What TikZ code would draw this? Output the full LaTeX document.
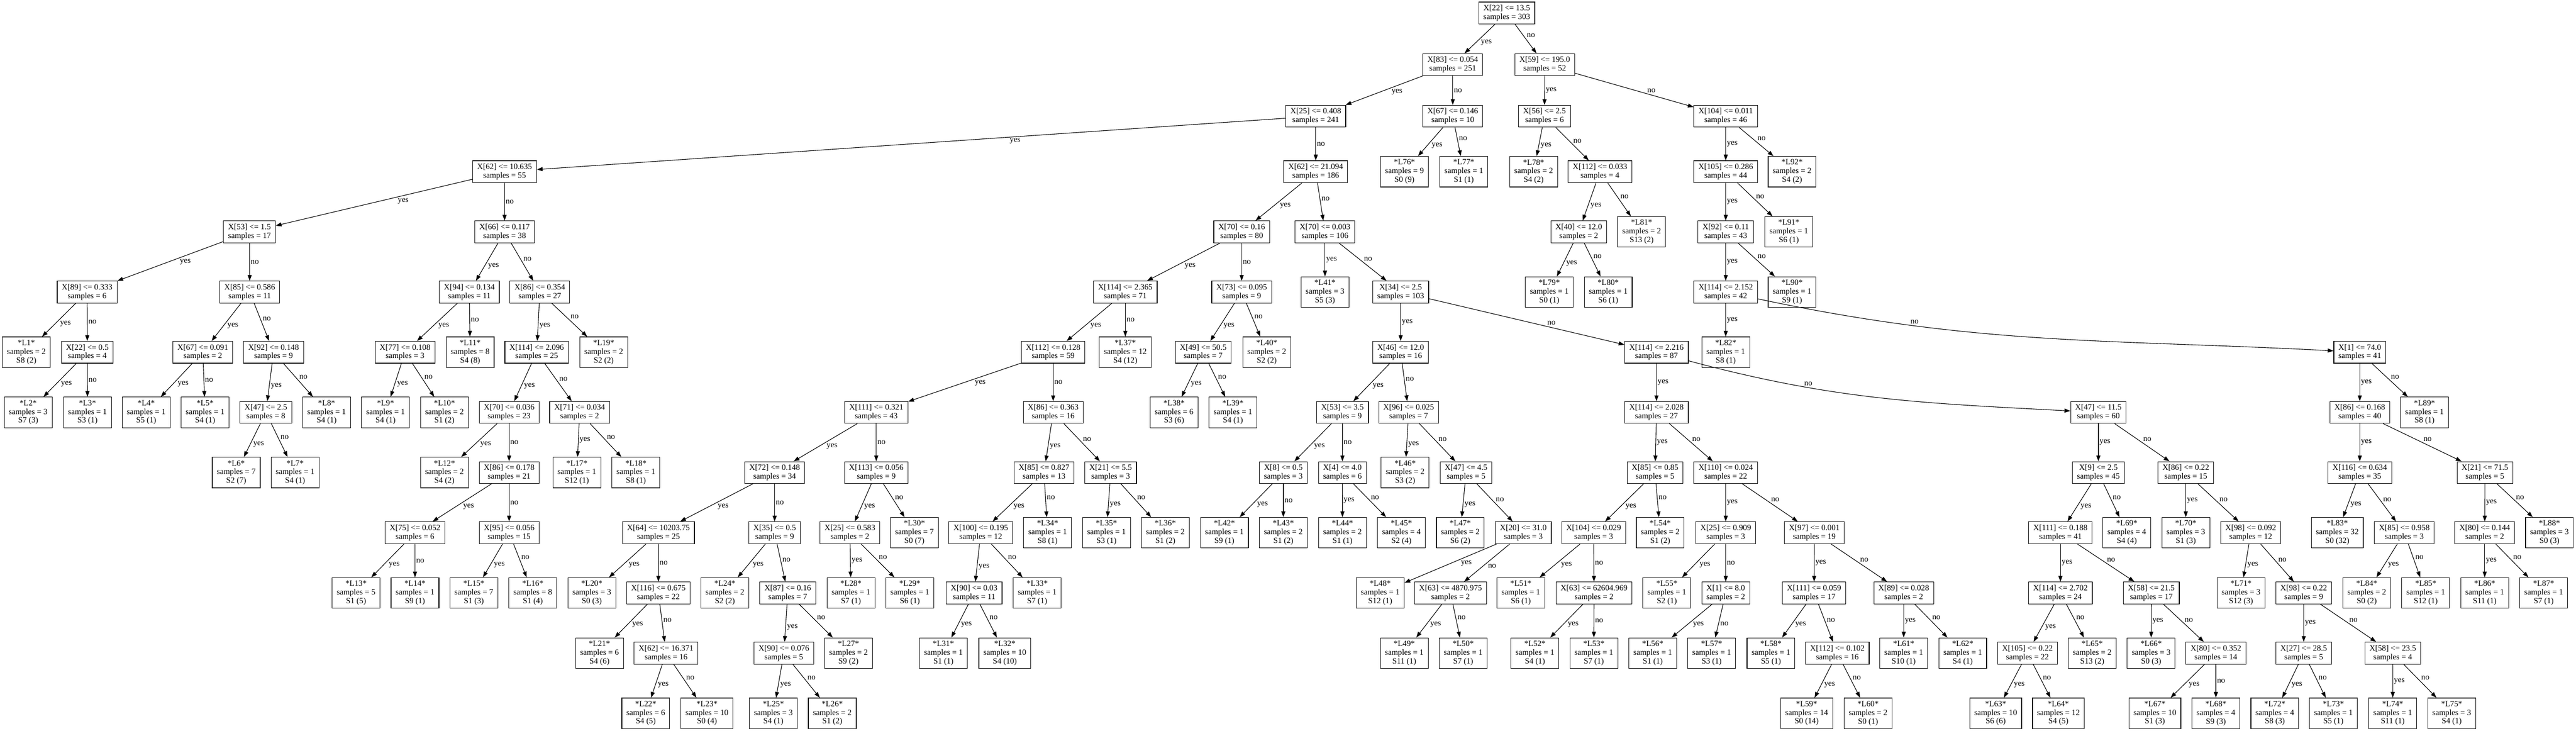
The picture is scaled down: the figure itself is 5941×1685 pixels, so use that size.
\documentclass[tikz,border=0pt]{standalone}
\usepackage{fontspec}
\setmainfont{Liberation Serif}
\usetikzlibrary{arrows.meta}

\begin{document}
\begin{tikzpicture}[x=0.75pt,y=0.75pt,font=\fontsize{14}{15}\selectfont,
split/.style={draw,line width=1pt,fill=white,align=center,inner xsep=7.9pt,inner ysep=1pt,minimum height=37.9pt},
leaf/.style={split,minimum height=52.9pt},
link/.style={line width=1pt,-{Triangle[length=10pt,width=7pt]}},
lbl/.style={auto=left,inner sep=1.5pt}]
\useasboundingbox (0,0) rectangle (5941,-1685);
\node[split] (x22a) at (3475,-30) {X[22] <= 13.5\\samples = 303};
\node[split] (x83) at (3350.5,-149) {X[83] <= 0.054\\samples = 251};
\node[split] (x59) at (3562.5,-149) {X[59] <= 195.0\\samples = 52};
\node[split] (x25a) at (3034.5,-268) {X[25] <= 0.408\\samples = 241};
\node[split] (x67a) at (3350.5,-268) {X[67] <= 0.146\\samples = 10};
\node[split] (x56) at (3562,-268) {X[56] <= 2.5\\samples = 6};
\node[split] (x104a) at (3980,-268) {X[104] <= 0.011\\samples = 46};
\node[split] (x62a) at (1163.7,-396) {X[62] <= 10.635\\samples = 55};
\node[split] (x62b) at (3034.5,-396) {X[62] <= 21.094\\samples = 186};
\node[leaf] (l76) at (3239,-396) {*L76*\\samples = 9\\S0 (9)};
\node[leaf] (l77) at (3376,-396) {*L77*\\samples = 1\\S1 (1)};
\node[leaf] (l78) at (3537,-396) {*L78*\\samples = 2\\S4 (2)};
\node[split] (x112a) at (3690,-396) {X[112] <= 0.033\\samples = 4};
\node[split] (x105a) at (3980,-396) {X[105] <= 0.286\\samples = 44};
\node[leaf] (l92) at (4133,-396) {*L92*\\samples = 2\\S4 (2)};
\node[split] (x53a) at (575.4,-534.8) {X[53] <= 1.5\\samples = 17};
\node[split] (x66) at (1163.7,-534.8) {X[66] <= 0.117\\samples = 38};
\node[split] (x70a) at (2863.7,-534.8) {X[70] <= 0.16\\samples = 80};
\node[split] (x70b) at (3055.8,-534.8) {X[70] <= 0.003\\samples = 106};
\node[split] (x40) at (3641,-534.8) {X[40] <= 12.0\\samples = 2};
\node[leaf] (l81) at (3786,-534.8) {*L81*\\samples = 2\\S13 (2)};
\node[split] (x92a) at (3980,-534.8) {X[92] <= 0.11\\samples = 43};
\node[leaf] (l91) at (4125.5,-534.8) {*L91*\\samples = 1\\S6 (1)};
\node[split] (x89a) at (200.9,-673.6) {X[89] <= 0.333\\samples = 6};
\node[split] (x85a) at (575.9,-673.6) {X[85] <= 0.586\\samples = 11};
\node[split] (x94) at (1082.4,-673.6) {X[94] <= 0.134\\samples = 11};
\node[split] (x86a) at (1245,-673.6) {X[86] <= 0.354\\samples = 27};
\node[split] (x114a) at (2595.3,-673.6) {X[114] <= 2.365\\samples = 71};
\node[split] (x73) at (2863.6,-673.6) {X[73] <= 0.095\\samples = 9};
\node[leaf] (l41) at (3055.8,-673.6) {*L41*\\samples = 3\\S5 (3)};
\node[split] (x34) at (3230.3,-673.6) {X[34] <= 2.5\\samples = 103};
\node[leaf] (l79) at (3573,-673.6) {*L79*\\samples = 1\\S0 (1)};
\node[leaf] (l80) at (3709,-673.6) {*L80*\\samples = 1\\S6 (1)};
\node[split] (x114b) at (3980,-673.6) {X[114] <= 2.152\\samples = 42};
\node[leaf] (l90) at (4133,-673.6) {*L90*\\samples = 1\\S9 (1)};
\node[leaf] (l1) at (60.7,-812.4) {*L1*\\samples = 2\\S8 (2)};
\node[split] (x22b) at (201.4,-812.4) {X[22] <= 0.5\\samples = 4};
\node[split] (x67b) at (467.8,-812.4) {X[67] <= 0.091\\samples = 2};
\node[split] (x92b) at (630.9,-812.4) {X[92] <= 0.148\\samples = 9};
\node[split] (x77) at (934.1,-812.4) {X[77] <= 0.108\\samples = 3};
\node[leaf] (l11) at (1084.3,-812.4) {*L11*\\samples = 8\\S4 (8)};
\node[split] (x114c) at (1237.8,-812.4) {X[114] <= 2.096\\samples = 25};
\node[leaf] (l19) at (1392.3,-812.4) {*L19*\\samples = 2\\S2 (2)};
\node[split] (x112b) at (2428.9,-812.4) {X[112] <= 0.128\\samples = 59};
\node[leaf] (l37) at (2595.3,-812.4) {*L37*\\samples = 12\\S4 (12)};
\node[split] (x49) at (2774.8,-812.4) {X[49] <= 50.5\\samples = 7};
\node[leaf] (l40) at (2921.5,-812.4) {*L40*\\samples = 2\\S2 (2)};
\node[split] (x46) at (3230.3,-812.4) {X[46] <= 12.0\\samples = 16};
\node[split] (x114d) at (3820.3,-812.4) {X[114] <= 2.216\\samples = 87};
\node[leaf] (l82) at (3980,-812.4) {*L82*\\samples = 1\\S8 (1)};
\node[split] (x1a) at (5442.3,-812.4) {X[1] <= 74.0\\samples = 41};
\node[leaf] (l2) at (65,-951.2) {*L2*\\samples = 3\\S7 (3)};
\node[leaf] (l3) at (201.8,-951.2) {*L3*\\samples = 1\\S3 (1)};
\node[leaf] (l4) at (337.2,-951.2) {*L4*\\samples = 1\\S5 (1)};
\node[leaf] (l5) at (473,-951.2) {*L5*\\samples = 1\\S4 (1)};
\node[split] (x47a) at (613.2,-951.2) {X[47] <= 2.5\\samples = 8};
\node[leaf] (l8) at (753.3,-951.2) {*L8*\\samples = 1\\S4 (1)};
\node[leaf] (l9) at (889.2,-951.2) {*L9*\\samples = 1\\S4 (1)};
\node[leaf] (l10) at (1025,-951.2) {*L10*\\samples = 2\\S1 (2)};
\node[split] (x70c) at (1174.2,-951.2) {X[70] <= 0.036\\samples = 23};
\node[split] (x71) at (1336.8,-951.2) {X[71] <= 0.034\\samples = 2};
\node[split] (x111a) at (2020.9,-951.2) {X[111] <= 0.321\\samples = 43};
\node[split] (x86b) at (2428.9,-951.2) {X[86] <= 0.363\\samples = 16};
\node[leaf] (l38) at (2707.7,-951.2) {*L38*\\samples = 6\\S3 (6)};
\node[leaf] (l39) at (2843.5,-951.2) {*L39*\\samples = 1\\S4 (1)};
\node[split] (x53b) at (3096.1,-951.2) {X[53] <= 3.5\\samples = 9};
\node[split] (x96) at (3248.7,-951.2) {X[96] <= 0.025\\samples = 7};
\node[split] (x114e) at (3820.3,-951.2) {X[114] <= 2.028\\samples = 27};
\node[split] (x47b) at (4839.4,-951.2) {X[47] <= 11.5\\samples = 60};
\node[split] (x86c) at (5442.3,-951.2) {X[86] <= 0.168\\samples = 40};
\node[leaf] (l89) at (5591.6,-951.2) {*L89*\\samples = 1\\S8 (1)};
\node[leaf] (l6) at (544.8,-1090) {*L6*\\samples = 7\\S2 (7)};
\node[leaf] (l7) at (680.6,-1090) {*L7*\\samples = 1\\S4 (1)};
\node[leaf] (l12) at (1025,-1090) {*L12*\\samples = 2\\S4 (2)};
\node[split] (x86d) at (1174.2,-1090) {X[86] <= 0.178\\samples = 21};
\node[leaf] (l17) at (1330.4,-1090) {*L17*\\samples = 1\\S12 (1)};
\node[leaf] (l18) at (1466.6,-1090) {*L18*\\samples = 1\\S8 (1)};
\node[split] (x72) at (1786.5,-1090) {X[72] <= 0.148\\samples = 34};
\node[split] (x113) at (2020.9,-1090) {X[113] <= 0.056\\samples = 9};
\node[split] (x85b) at (2407.8,-1090) {X[85] <= 0.827\\samples = 13};
\node[split] (x21a) at (2561.4,-1090) {X[21] <= 5.5\\samples = 3};
\node[split] (x8) at (2959.7,-1090) {X[8] <= 0.5\\samples = 3};
\node[split] (x4) at (3096,-1090) {X[4] <= 4.0\\samples = 6};
\node[leaf] (l46) at (3240.6,-1090) {*L46*\\samples = 2\\S3 (2)};
\node[split] (x47c) at (3381.2,-1090) {X[47] <= 4.5\\samples = 5};
\node[split] (x85c) at (3817,-1090) {X[85] <= 0.85\\samples = 5};
\node[split] (x110) at (3980,-1090) {X[110] <= 0.024\\samples = 22};
\node[split] (x9) at (4839.4,-1090) {X[9] <= 2.5\\samples = 45};
\node[split] (x86e) at (5041,-1090) {X[86] <= 0.22\\samples = 15};
\node[split] (x116a) at (5442.3,-1090) {X[116] <= 0.634\\samples = 35};
\node[split] (x21b) at (5730.9,-1090) {X[21] <= 71.5\\samples = 5};
\node[split] (x75) at (957.1,-1228.8) {X[75] <= 0.052\\samples = 6};
\node[split] (x95) at (1174.2,-1228.8) {X[95] <= 0.056\\samples = 15};
\node[split] (x64) at (1518.6,-1228.8) {X[64] <= 10203.75\\samples = 25};
\node[split] (x35) at (1786.5,-1228.8) {X[35] <= 0.5\\samples = 9};
\node[split] (x25b) at (1960.1,-1228.8) {X[25] <= 0.583\\samples = 2};
\node[leaf] (l30) at (2108.9,-1228.8) {*L30*\\samples = 7\\S0 (7)};
\node[split] (x100) at (2261.9,-1228.8) {X[100] <= 0.195\\samples = 12};
\node[leaf] (l34) at (2416,-1228.8) {*L34*\\samples = 1\\S8 (1)};
\node[leaf] (l35) at (2551.8,-1228.8) {*L35*\\samples = 1\\S3 (1)};
\node[leaf] (l36) at (2687.6,-1228.8) {*L36*\\samples = 2\\S1 (2)};
\node[leaf] (l42) at (2823.8,-1228.8) {*L42*\\samples = 1\\S9 (1)};
\node[leaf] (l43) at (2959.7,-1228.8) {*L43*\\samples = 2\\S1 (2)};
\node[leaf] (l44) at (3096.1,-1228.8) {*L44*\\samples = 2\\S1 (1)};
\node[leaf] (l45) at (3232,-1228.8) {*L45*\\samples = 4\\S2 (4)};
\node[leaf] (l47) at (3367.8,-1228.8) {*L47*\\samples = 2\\S6 (2)};
\node[split] (x20) at (3513.2,-1228.8) {X[20] <= 31.0\\samples = 3};
\node[split] (x104b) at (3675.4,-1228.8) {X[104] <= 0.029\\samples = 3};
\node[leaf] (l54) at (3828.9,-1228.8) {*L54*\\samples = 2\\S1 (2)};
\node[split] (x25c) at (3980,-1228.8) {X[25] <= 0.909\\samples = 3};
\node[split] (x97) at (4184.3,-1228.8) {X[97] <= 0.001\\samples = 19};
\node[split] (x111b) at (4751.9,-1228.8) {X[111] <= 0.188\\samples = 41};
\node[leaf] (l69) at (4905,-1228.8) {*L69*\\samples = 4\\S4 (4)};
\node[leaf] (l70) at (5041,-1228.8) {*L70*\\samples = 3\\S1 (3)};
\node[split] (x98a) at (5190.8,-1228.8) {X[98] <= 0.092\\samples = 12};
\node[leaf] (l83) at (5390.4,-1228.8) {*L83*\\samples = 32\\S0 (32)};
\node[split] (x85d) at (5545,-1228.8) {X[85] <= 0.958\\samples = 3};
\node[split] (x80a) at (5730.4,-1228.8) {X[80] <= 0.144\\samples = 2};
\node[leaf] (l88) at (5879.7,-1228.8) {*L88*\\samples = 3\\S0 (3)};
\node[leaf] (l13) at (821.2,-1367.6) {*L13*\\samples = 5\\S1 (5)};
\node[leaf] (l14) at (957.1,-1367.6) {*L14*\\samples = 1\\S9 (1)};
\node[leaf] (l15) at (1092.9,-1367.6) {*L15*\\samples = 7\\S1 (3)};
\node[leaf] (l16) at (1228.8,-1367.6) {*L16*\\samples = 8\\S1 (4)};
\node[leaf] (l20) at (1364.8,-1367.6) {*L20*\\samples = 3\\S0 (3)};
\node[split] (x116b) at (1518.4,-1367.6) {X[116] <= 0.675\\samples = 22};
\node[leaf] (l24) at (1671.8,-1367.6) {*L24*\\samples = 2\\S2 (2)};
\node[split] (x87) at (1816.8,-1367.6) {X[87] <= 0.16\\samples = 7};
\node[leaf] (l28) at (1962.5,-1367.6) {*L28*\\samples = 1\\S7 (1)};
\node[leaf] (l29) at (2098.4,-1367.6) {*L29*\\samples = 1\\S6 (1)};
\node[split] (x90a) at (2246.6,-1367.6) {X[90] <= 0.03\\samples = 11};
\node[leaf] (l33) at (2392,-1367.6) {*L33*\\samples = 1\\S7 (1)};
\node[leaf] (l48) at (3183.2,-1367.6) {*L48*\\samples = 1\\S12 (1)};
\node[split] (x63a) at (3345.3,-1367.6) {X[63] <= 4870.975\\samples = 2};
\node[leaf] (l51) at (3507.5,-1367.6) {*L51*\\samples = 1\\S6 (1)};
\node[split] (x63b) at (3676.3,-1367.6) {X[63] <= 62604.969\\samples = 2};
\node[leaf] (l55) at (3844.2,-1367.6) {*L55*\\samples = 1\\S2 (1)};
\node[split] (x1b) at (3980,-1367.6) {X[1] <= 8.0\\samples = 2};
\node[split] (x111c) at (4183.8,-1367.6) {X[111] <= 0.059\\samples = 17};
\node[split] (x89b) at (4390.6,-1367.6) {X[89] <= 0.028\\samples = 2};
\node[split] (x114f) at (4751.9,-1367.6) {X[114] <= 2.702\\samples = 24};
\node[split] (x58a) at (4961.6,-1367.6) {X[58] <= 21.5\\samples = 17};
\node[leaf] (l71) at (5168.4,-1367.6) {*L71*\\samples = 3\\S12 (3)};
\node[split] (x98b) at (5313,-1367.6) {X[98] <= 0.22\\samples = 9};
\node[leaf] (l84) at (5458.4,-1367.6) {*L84*\\samples = 2\\S0 (2)};
\node[leaf] (l85) at (5594.4,-1367.6) {*L85*\\samples = 1\\S12 (1)};
\node[leaf] (l86) at (5730.4,-1367.6) {*L86*\\samples = 1\\S11 (1)};
\node[leaf] (l87) at (5866.4,-1367.6) {*L87*\\samples = 1\\S7 (1)};
\node[leaf] (l21) at (1382.6,-1506.4) {*L21*\\samples = 6\\S4 (6)};
\node[split] (x62c) at (1536.2,-1506.4) {X[62] <= 16.371\\samples = 16};
\node[split] (x90b) at (1807.8,-1506.4) {X[90] <= 0.076\\samples = 5};
\node[leaf] (l27) at (1956.8,-1506.4) {*L27*\\samples = 2\\S9 (2)};
\node[leaf] (l31) at (2175.8,-1506.4) {*L31*\\samples = 1\\S1 (1)};
\node[leaf] (l32) at (2317.4,-1506.4) {*L32*\\samples = 10\\S4 (10)};
\node[leaf] (l49) at (3238.7,-1506.4) {*L49*\\samples = 1\\S11 (1)};
\node[leaf] (l50) at (3374.5,-1506.4) {*L50*\\samples = 1\\S7 (1)};
\node[leaf] (l52) at (3540,-1506.4) {*L52*\\samples = 1\\S4 (1)};
\node[leaf] (l53) at (3675.8,-1506.4) {*L53*\\samples = 1\\S7 (1)};
\node[leaf] (l56) at (3811.7,-1506.4) {*L56*\\samples = 1\\S1 (1)};
\node[leaf] (l57) at (3947.5,-1506.4) {*L57*\\samples = 1\\S3 (1)};
\node[leaf] (l58) at (4084.3,-1506.4) {*L58*\\samples = 1\\S5 (1)};
\node[split] (x112c) at (4237.4,-1506.4) {X[112] <= 0.102\\samples = 16};
\node[leaf] (l61) at (4390.4,-1506.4) {*L61*\\samples = 1\\S10 (1)};
\node[leaf] (l62) at (4526.5,-1506.4) {*L62*\\samples = 1\\S4 (1)};
\node[split] (x105b) at (4675.8,-1506.4) {X[105] <= 0.22\\samples = 22};
\node[leaf] (l65) at (4825.1,-1506.4) {*L65*\\samples = 2\\S13 (2)};
\node[leaf] (l66) at (4961.1,-1506.4) {*L66*\\samples = 3\\S0 (3)};
\node[split] (x80b) at (5110.4,-1506.4) {X[80] <= 0.352\\samples = 14};
\node[split] (x27) at (5313,-1506.4) {X[27] <= 28.5\\samples = 5};
\node[split] (x58b) at (5518.3,-1506.4) {X[58] <= 23.5\\samples = 4};
\node[leaf] (l22) at (1489.3,-1645.2) {*L22*\\samples = 6\\S4 (5)};
\node[leaf] (l23) at (1630.5,-1645.2) {*L23*\\samples = 10\\S0 (4)};
\node[leaf] (l25) at (1783.6,-1645.2) {*L25*\\samples = 3\\S4 (1)};
\node[leaf] (l26) at (1919.5,-1645.2) {*L26*\\samples = 2\\S1 (2)};
\node[leaf] (l59) at (4166.6,-1645.2) {*L59*\\samples = 14\\S0 (14)};
\node[leaf] (l60) at (4308.2,-1645.2) {*L60*\\samples = 2\\S0 (1)};
\node[leaf] (l63) at (4602.6,-1645.2) {*L63*\\samples = 10\\S6 (6)};
\node[leaf] (l64) at (4747.2,-1645.2) {*L64*\\samples = 12\\S4 (5)};
\node[leaf] (l67) at (4969.7,-1645.2) {*L67*\\samples = 10\\S1 (3)};
\node[leaf] (l68) at (5110.4,-1645.2) {*L68*\\samples = 4\\S9 (3)};
\node[leaf] (l72) at (5246.4,-1645.2) {*L72*\\samples = 4\\S8 (3)};
\node[leaf] (l73) at (5381.4,-1645.2) {*L73*\\samples = 1\\S5 (1)};
\node[leaf] (l74) at (5518.3,-1645.2) {*L74*\\samples = 1\\S11 (1)};
\node[leaf] (l75) at (5654.3,-1645.2) {*L75*\\samples = 3\\S4 (1)};
\draw[link] (x22a) -- node[lbl] {yes} (x83); \draw[link] (x22a) -- node[lbl] {no} (x59);
\draw[link] (x83) -- node[lbl,pos=.42] {yes} (x25a); \draw[link] (x83) -- node[lbl] {no} (x67a);
\draw[link] (x59) -- node[lbl] {yes} (x56); \draw[link] (x59) -- node[lbl,pos=.6] {no} (x104a);
\draw[link] (x25a) -- node[lbl,pos=.37] {yes} (x62a); \draw[link] (x25a) -- node[lbl] {no} (x62b);
\draw[link] (x67a) -- node[lbl] {yes} (l76); \draw[link] (x67a) -- node[lbl] {no} (l77);
\draw[link] (x56) -- node[lbl] {yes} (l78); \draw[link] (x56) -- node[lbl] {no} (x112a);
\draw[link] (x104a) -- node[lbl] {yes} (x105a); \draw[link] (x104a) -- node[lbl] {no} (l92);
\draw[link] (x62a) -- node[lbl,pos=.385] {yes} (x53a); \draw[link] (x62a) -- node[lbl] {no} (x66);
\draw[link] (x62b) -- node[lbl] {yes} (x70a); \draw[link] (x62b) -- node[lbl] {no} (x70b);
\draw[link] (x112a) -- node[lbl] {yes} (x40); \draw[link] (x112a) -- node[lbl] {no} (l81);
\draw[link] (x105a) -- node[lbl] {yes} (x92a); \draw[link] (x105a) -- node[lbl] {no} (l91);
\draw[link] (x53a) -- node[lbl,pos=.42] {yes} (x89a); \draw[link] (x53a) -- node[lbl] {no} (x85a);
\draw[link] (x66) -- node[lbl] {yes} (x94); \draw[link] (x66) -- node[lbl] {no} (x86a);
\draw[link] (x70a) -- node[lbl] {yes} (x114a); \draw[link] (x70a) -- node[lbl] {no} (x73);
\draw[link] (x70b) -- node[lbl] {yes} (l41); \draw[link] (x70b) -- node[lbl] {no} (x34);
\draw[link] (x40) -- node[lbl] {yes} (l79); \draw[link] (x40) -- node[lbl] {no} (l80);
\draw[link] (x92a) -- node[lbl] {yes} (x114b); \draw[link] (x92a) -- node[lbl] {no} (l90);
\draw[link] (x89a) -- node[lbl] {yes} (l1); \draw[link] (x89a) -- node[lbl] {no} (x22b);
\draw[link] (x85a) -- node[lbl] {yes} (x67b); \draw[link] (x85a) -- node[lbl] {no} (x92b);
\draw[link] (x94) -- node[lbl] {yes} (x77); \draw[link] (x94) -- node[lbl] {no} (l11);
\draw[link] (x86a) -- node[lbl] {yes} (x114c); \draw[link] (x86a) -- node[lbl] {no} (l19);
\draw[link] (x114a) -- node[lbl] {yes} (x112b); \draw[link] (x114a) -- node[lbl] {no} (l37);
\draw[link] (x73) -- node[lbl] {yes} (x49); \draw[link] (x73) -- node[lbl] {no} (l40);
\draw[link] (x34) -- node[lbl] {yes} (x46); \draw[link] (x34) -- node[lbl,pos=.6] {no} (x114d);
\draw[link] (x114b) -- node[lbl] {yes} (l82); \draw[link] (x114b) to[out=-12,in=177] node[lbl,pos=.25] {no} (x1a);
\draw[link] (x22b) -- node[lbl] {yes} (l2); \draw[link] (x22b) -- node[lbl] {no} (l3);
\draw[link] (x67b) -- node[lbl] {yes} (l4); \draw[link] (x67b) -- node[lbl] {no} (l5);
\draw[link] (x92b) -- node[lbl] {yes} (x47a); \draw[link] (x92b) -- node[lbl] {no} (l8);
\draw[link] (x77) -- node[lbl] {yes} (l9); \draw[link] (x77) -- node[lbl] {no} (l10);
\draw[link] (x114c) -- node[lbl] {yes} (x70c); \draw[link] (x114c) -- node[lbl] {no} (x71);
\draw[link] (x112b) -- node[lbl,pos=.42] {yes} (x111a); \draw[link] (x112b) -- node[lbl] {no} (x86b);
\draw[link] (x49) -- node[lbl] {yes} (l38); \draw[link] (x49) -- node[lbl] {no} (l39);
\draw[link] (x46) -- node[lbl] {yes} (x53b); \draw[link] (x46) -- node[lbl] {no} (x96);
\draw[link] (x114d) -- node[lbl] {yes} (x114e); \draw[link] (x114d) to[out=-15,in=177] node[lbl,pos=.29] {no} (x47b);
\draw[link] (x1a) -- node[lbl] {yes} (x86c); \draw[link] (x1a) -- node[lbl] {no} (l89);
\draw[link] (x47a) -- node[lbl] {yes} (l6); \draw[link] (x47a) -- node[lbl] {no} (l7);
\draw[link] (x70c) -- node[lbl] {yes} (l12); \draw[link] (x70c) -- node[lbl] {no} (x86d);
\draw[link] (x71) -- node[lbl] {yes} (l17); \draw[link] (x71) -- node[lbl] {no} (l18);
\draw[link] (x111a) -- node[lbl] {yes} (x72); \draw[link] (x111a) -- node[lbl] {no} (x113);
\draw[link] (x86b) -- node[lbl] {yes} (x85b); \draw[link] (x86b) -- node[lbl] {no} (x21a);
\draw[link] (x53b) -- node[lbl] {yes} (x8); \draw[link] (x53b) -- node[lbl] {no} (x4);
\draw[link] (x96) -- node[lbl] {yes} (l46); \draw[link] (x96) -- node[lbl] {no} (x47c);
\draw[link] (x114e) -- node[lbl] {yes} (x85c); \draw[link] (x114e) -- node[lbl] {no} (x110);
\draw[link] (x47b) -- node[lbl] {yes} (x9); \draw[link] (x47b) -- node[lbl] {no} (x86e);
\draw[link] (x86c) -- node[lbl] {yes} (x116a); \draw[link] (x86c) -- node[lbl] {no} (x21b);
\draw[link] (x86d) -- node[lbl] {yes} (x75); \draw[link] (x86d) -- node[lbl] {no} (x95);
\draw[link] (x72) -- node[lbl] {yes} (x64); \draw[link] (x72) -- node[lbl] {no} (x35);
\draw[link] (x113) -- node[lbl] {yes} (x25b); \draw[link] (x113) -- node[lbl] {no} (l30);
\draw[link] (x85b) -- node[lbl] {yes} (x100); \draw[link] (x85b) -- node[lbl] {no} (l34);
\draw[link] (x21a) -- node[lbl] {yes} (l35); \draw[link] (x21a) -- node[lbl] {no} (l36);
\draw[link] (x8) -- node[lbl] {yes} (l42); \draw[link] (x8) -- node[lbl] {no} (l43);
\draw[link] (x4) -- node[lbl] {yes} (l44); \draw[link] (x4) -- node[lbl] {no} (l45);
\draw[link] (x47c) -- node[lbl] {yes} (l47); \draw[link] (x47c) -- node[lbl] {no} (x20);
\draw[link] (x85c) -- node[lbl] {yes} (x104b); \draw[link] (x85c) -- node[lbl] {no} (l54);
\draw[link] (x110) -- node[lbl] {yes} (x25c); \draw[link] (x110) -- node[lbl] {no} (x97);
\draw[link] (x9) -- node[lbl] {yes} (x111b); \draw[link] (x9) -- node[lbl] {no} (l69);
\draw[link] (x86e) -- node[lbl] {yes} (l70); \draw[link] (x86e) -- node[lbl] {no} (x98a);
\draw[link] (x116a) -- node[lbl] {yes} (l83); \draw[link] (x116a) -- node[lbl] {no} (x85d);
\draw[link] (x21b) -- node[lbl] {yes} (x80a); \draw[link] (x21b) -- node[lbl] {no} (l88);
\draw[link] (x75) -- node[lbl] {yes} (l13); \draw[link] (x75) -- node[lbl] {no} (l14);
\draw[link] (x95) -- node[lbl] {yes} (l15); \draw[link] (x95) -- node[lbl] {no} (l16);
\draw[link] (x64) -- node[lbl] {yes} (l20); \draw[link] (x64) -- node[lbl] {no} (x116b);
\draw[link] (x35) -- node[lbl] {yes} (l24); \draw[link] (x35) -- node[lbl] {no} (x87);
\draw[link] (x25b) -- node[lbl] {yes} (l28); \draw[link] (x25b) -- node[lbl] {no} (l29);
\draw[link] (x100) -- node[lbl] {yes} (x90a); \draw[link] (x100) -- node[lbl] {no} (l33);
\draw[link] (x20) -- node[lbl,pos=.4] {yes} (l48); \draw[link] (x20) -- node[lbl] {no} (x63a);
\draw[link] (x104b) -- node[lbl] {yes} (l51); \draw[link] (x104b) -- node[lbl] {no} (x63b);
\draw[link] (x25c) -- node[lbl] {yes} (l55); \draw[link] (x25c) -- node[lbl] {no} (x1b);
\draw[link] (x97) -- node[lbl] {yes} (x111c); \draw[link] (x97) -- node[lbl] {no} (x89b);
\draw[link] (x111b) -- node[lbl] {yes} (x114f); \draw[link] (x111b) -- node[lbl] {no} (x58a);
\draw[link] (x98a) -- node[lbl] {yes} (l71); \draw[link] (x98a) -- node[lbl] {no} (x98b);
\draw[link] (x85d) -- node[lbl] {yes} (l84); \draw[link] (x85d) -- node[lbl] {no} (l85);
\draw[link] (x80a) -- node[lbl] {yes} (l86); \draw[link] (x80a) -- node[lbl] {no} (l87);
\draw[link] (x116b) -- node[lbl] {yes} (l21); \draw[link] (x116b) -- node[lbl] {no} (x62c);
\draw[link] (x87) -- node[lbl] {yes} (x90b); \draw[link] (x87) -- node[lbl] {no} (l27);
\draw[link] (x90a) -- node[lbl] {yes} (l31); \draw[link] (x90a) -- node[lbl] {no} (l32);
\draw[link] (x63a) -- node[lbl] {yes} (l49); \draw[link] (x63a) -- node[lbl] {no} (l50);
\draw[link] (x63b) -- node[lbl] {yes} (l52); \draw[link] (x63b) -- node[lbl] {no} (l53);
\draw[link] (x1b) -- node[lbl] {yes} (l56); \draw[link] (x1b) -- node[lbl] {no} (l57);
\draw[link] (x111c) -- node[lbl] {yes} (l58); \draw[link] (x111c) -- node[lbl] {no} (x112c);
\draw[link] (x89b) -- node[lbl] {yes} (l61); \draw[link] (x89b) -- node[lbl] {no} (l62);
\draw[link] (x114f) -- node[lbl] {yes} (x105b); \draw[link] (x114f) -- node[lbl] {no} (l65);
\draw[link] (x58a) -- node[lbl] {yes} (l66); \draw[link] (x58a) -- node[lbl] {no} (x80b);
\draw[link] (x98b) -- node[lbl] {yes} (x27); \draw[link] (x98b) -- node[lbl] {no} (x58b);
\draw[link] (x62c) -- node[lbl] {yes} (l22); \draw[link] (x62c) -- node[lbl] {no} (l23);
\draw[link] (x90b) -- node[lbl] {yes} (l25); \draw[link] (x90b) -- node[lbl] {no} (l26);
\draw[link] (x112c) -- node[lbl] {yes} (l59); \draw[link] (x112c) -- node[lbl] {no} (l60);
\draw[link] (x105b) -- node[lbl] {yes} (l63); \draw[link] (x105b) -- node[lbl] {no} (l64);
\draw[link] (x80b) -- node[lbl] {yes} (l67); \draw[link] (x80b) -- node[lbl] {no} (l68);
\draw[link] (x27) -- node[lbl] {yes} (l72); \draw[link] (x27) -- node[lbl] {no} (l73);
\draw[link] (x58b) -- node[lbl] {yes} (l74); \draw[link] (x58b) -- node[lbl] {no} (l75);
\end{tikzpicture}
\end{document}
